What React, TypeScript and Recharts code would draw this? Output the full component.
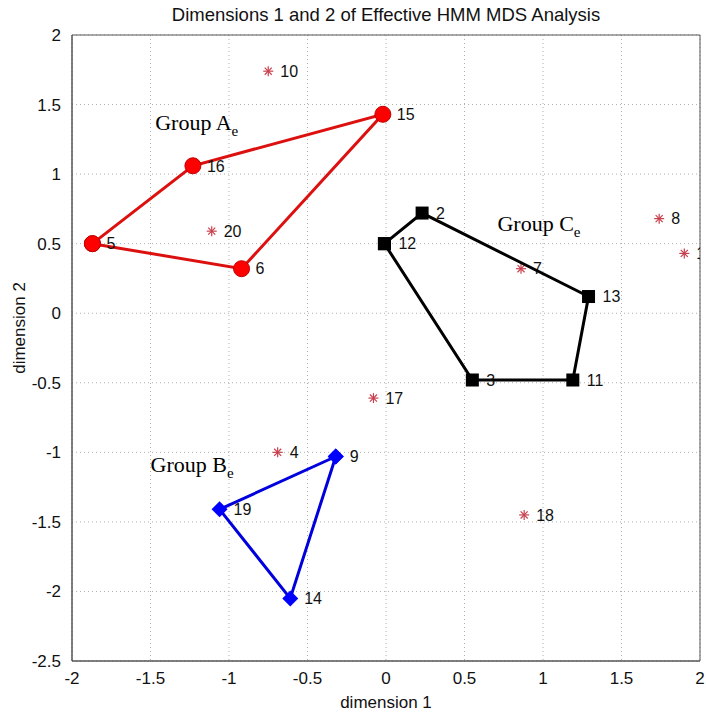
import React from 'react';
import { ScatterChart, Scatter, XAxis, YAxis, CartesianGrid, ReferenceArea } from 'recharts';

// MDS coordinates (dimension 1, dimension 2)
const groupA = [
  { x: -1.87, y: 0.5, id: '5' },
  { x: -1.23, y: 1.06, id: '16' },
  { x: -0.02, y: 1.43, id: '15' },
  { x: -0.92, y: 0.32, id: '6' },
  { x: -1.87, y: 0.5, id: '' },
];

const groupB = [
  { x: -0.32, y: -1.03, id: '9' },
  { x: -1.06, y: -1.41, id: '19' },
  { x: -0.61, y: -2.05, id: '14' },
  { x: -0.32, y: -1.03, id: '' },
];

const groupC = [
  { x: -0.01, y: 0.5, id: '12' },
  { x: 0.23, y: 0.72, id: '2' },
  { x: 1.29, y: 0.12, id: '13' },
  { x: 1.19, y: -0.48, id: '11' },
  { x: 0.55, y: -0.48, id: '3' },
  { x: -0.01, y: 0.5, id: '' },
];

const others = [
  { x: 1.9, y: 0.43, id: '1' },
  { x: -0.69, y: -1.0, id: '4' },
  { x: 0.86, y: 0.32, id: '7' },
  { x: 1.74, y: 0.68, id: '8' },
  { x: -0.75, y: 1.74, id: '10' },
  { x: -0.08, y: -0.61, id: '17' },
  { x: 0.88, y: -1.45, id: '18' },
  { x: -1.11, y: 0.59, id: '20' },
];

const groupLabels = [
  { x: -1.47, y: 1.32, name: 'Group A', sub: 'e' },
  { x: -1.5, y: -1.14, name: 'Group B', sub: 'e' },
  { x: 0.71, y: 0.59, name: 'Group C', sub: 'e' },
];

const xTicks = [-2, -1.5, -1, -0.5, 0, 0.5, 1, 1.5, 2];
const yTicks = [-2.5, -2, -1.5, -1, -0.5, 0, 0.5, 1, 1.5, 2];

const FONT = '"Liberation Sans", Arial, sans-serif';

const idText = (x: number, cy: number, id: string) =>
  id ? (
    <text x={x} y={cy} dy="0.36em" fontSize={16} fontFamily={FONT} fill="#111">
      {id}
    </text>
  ) : null;

const CircleMark = (p: any) => (
  <g>
    <circle cx={p.cx} cy={p.cy} r={8} fill="#ff0000" stroke="#c00000" strokeWidth={1} />
    {idText(p.cx + 14, p.cy, p.payload.id)}
  </g>
);

const SquareMark = (p: any) => (
  <g>
    <rect x={p.cx - 6.5} y={p.cy - 6.5} width={13} height={13} fill="#000" />
    {idText(p.cx + 14, p.cy, p.payload.id)}
  </g>
);

const DiamondMark = (p: any) => (
  <g>
    <polygon
      points={`${p.cx},${p.cy - 8} ${p.cx + 8},${p.cy} ${p.cx},${p.cy + 8} ${p.cx - 8},${p.cy}`}
      fill="#0000ff"
    />
    {idText(p.cx + 14, p.cy, p.payload.id)}
  </g>
);

const StarMark = (p: any) => {
  const r = 5;
  const d = r * 0.707;
  const c = '#c8404e';
  return (
    <g>
      <line x1={p.cx - r} y1={p.cy} x2={p.cx + r} y2={p.cy} stroke={c} strokeWidth={1.2} />
      <line x1={p.cx} y1={p.cy - r} x2={p.cx} y2={p.cy + r} stroke={c} strokeWidth={1.2} />
      <line x1={p.cx - d} y1={p.cy - d} x2={p.cx + d} y2={p.cy + d} stroke={c} strokeWidth={1.2} />
      <line x1={p.cx - d} y1={p.cy + d} x2={p.cx + d} y2={p.cy - d} stroke={c} strokeWidth={1.2} />
      {idText(p.cx + 12, p.cy, p.payload.id)}
    </g>
  );
};

const GroupText = (p: any) => (
  <text x={p.cx} y={p.cy} fontSize={22} fontFamily='"Liberation Serif", "Times New Roman", serif' fill="#000">
    {p.payload.name}
    <tspan fontSize={15} dy={6}>{p.payload.sub}</tspan>
  </text>
);

export default function App() {
  return (
    <div style={{ position: 'absolute', left: 0, top: 0, width: 706, height: 717, background: '#fff' }}>
      <div
        style={{
          position: 'absolute',
          top: 4,
          left: 72,
          width: 628,
          textAlign: 'center',
          fontFamily: FONT,
          fontSize: 18.5,
          color: '#111',
        }}
      >
        Dimensions 1 and 2 of Effective HMM MDS Analysis
      </div>
      <ScatterChart width={706} height={717} margin={{ top: 35, right: 6, bottom: 16, left: 12 }}>
        <CartesianGrid stroke="#b0b0b0" strokeDasharray="1 3" />
        <XAxis
          type="number"
          dataKey="x"
          domain={[-2, 2]}
          ticks={xTicks}
          allowDataOverflow
          height={40}
          tickLine={false}
          axisLine={{ stroke: '#555' }}
          tick={{ fill: '#111', fontSize: 17, fontFamily: FONT }}
          tickMargin={5}
          label={{
            content: ({ viewBox }: any) => (
              <text
                x={viewBox.x + viewBox.width / 2}
                y={viewBox.y + 47}
                textAnchor="middle"
                fontSize={17}
                fontFamily={FONT}
                fill="#111"
              >
                dimension 1
              </text>
            ),
          }}
        />
        <YAxis
          type="number"
          dataKey="y"
          domain={[-2.5, 2]}
          ticks={yTicks}
          allowDataOverflow
          width={60}
          tickLine={false}
          axisLine={{ stroke: '#555' }}
          tick={{ fill: '#111', fontSize: 17, fontFamily: FONT }}
          tickMargin={5}
          label={{
            content: ({ viewBox }: any) => {
              const x = viewBox.x + 13;
              const y = viewBox.y + viewBox.height / 2 - 20;
              return (
                <text
                  x={x}
                  y={y}
                  transform={`rotate(-90 ${x} ${y})`}
                  textAnchor="middle"
                  fontSize={17}
                  fontFamily={FONT}
                  fill="#111"
                >
                  dimension 2
                </text>
              );
            },
          }}
        />
        <ReferenceArea x1={-2} x2={2} y1={-2.5} y2={2} fill="none" stroke="#555" strokeOpacity={1} />
        <Scatter data={others} shape={StarMark} isAnimationActive={false} />
        <Scatter
          data={groupA}
          line={{ stroke: '#dd1010', strokeWidth: 3 }}
          lineType="joint"
          shape={CircleMark}
          isAnimationActive={false}
        />
        <Scatter
          data={groupC}
          line={{ stroke: '#000', strokeWidth: 3 }}
          lineType="joint"
          shape={SquareMark}
          isAnimationActive={false}
        />
        <Scatter
          data={groupB}
          line={{ stroke: '#0000dd', strokeWidth: 3 }}
          lineType="joint"
          shape={DiamondMark}
          isAnimationActive={false}
        />
        <Scatter data={groupLabels} shape={GroupText} isAnimationActive={false} />
      </ScatterChart>
    </div>
  );
}
